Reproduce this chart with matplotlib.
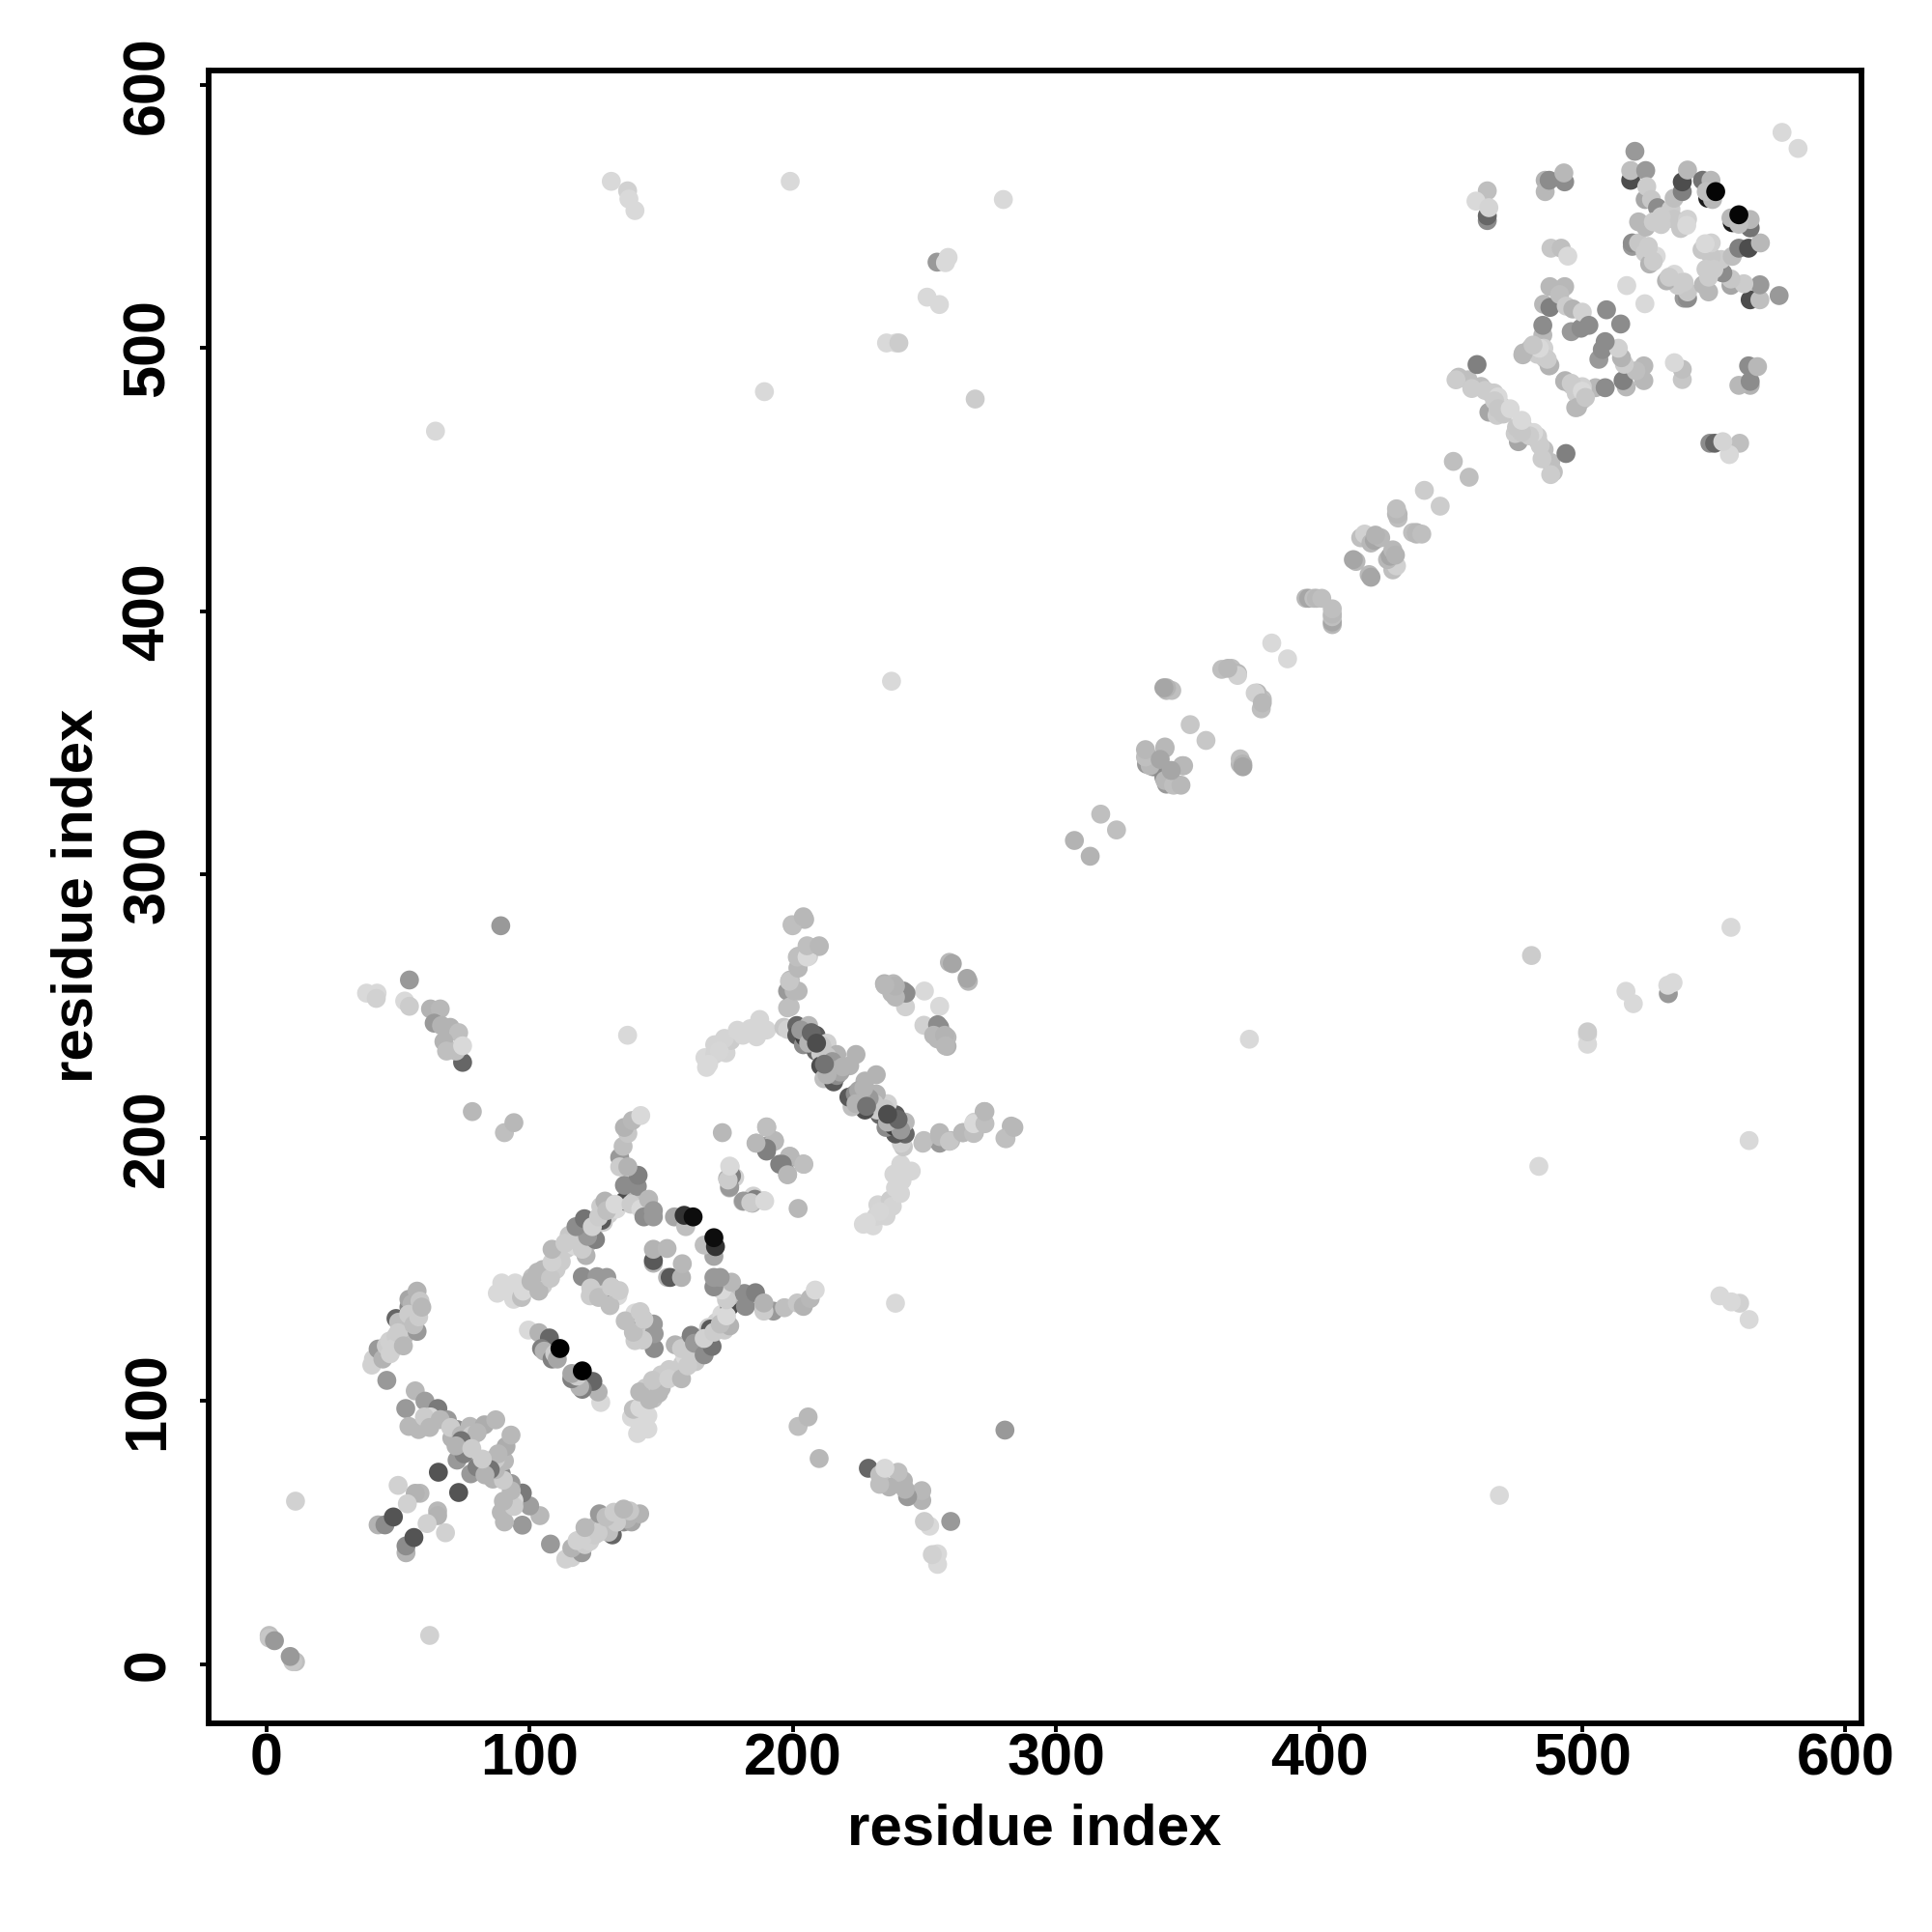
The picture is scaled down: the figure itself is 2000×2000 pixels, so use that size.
import matplotlib
matplotlib.use("Agg")
import matplotlib.pyplot as plt

plt.rcParams['font.family'] = ['Liberation Sans', 'DejaVu Sans']

# contact tables: (residue i, residue j, grey level); i < j, the map is symmetric
origin = [(1,11,.75),(1,10,.78),(3,9,.6),(11,62,.82)]
x_arm = [(56.5,103.9,.72),(52.9,97.2,.6),(60.2,100,.62),(65.1,97.2,.48),(54.1,90.4,.72),(57.8,89.2,.72),
         (68.7,92.9,.6),(72.4,89.2,.55),(77.3,90.4,.72),(82.8,91,.68),(87.1,92.9,.72),(73.7,81.9,.55),
         (72.4,77.6,.6),(77.3,84.3,.75),(62.3,94,.85),(70.4,86,.7),(60,94,.8),(62,90,.72),(66,93,.72),
         (70,90,.8),(74,87,.72),(78,87,.8),(80,88,.72),(74,85,.45),(75,80,.5),(72,83,.7),(78,82,.8),
         (65.3,73,.33),(50,68,.82),(58.3,65,.72),(56.5,65,.7),(53.5,61,.82),(42.4,53,.7),(45,53,.55),(48.2,56,.33)]
helix_a = [(45.7,107.9,.6),(40,113.7,.82),(40.6,116,.82),(42.4,119.8,.6),(44.2,116,.7),(45.5,121,.8),
           (46.7,122.8,.82),(49.2,124.7,.8),(49.2,131.4,.4),(52.3,124.7,.75),(52.9,128.3,.8),(54.1,135.7,.55),
           (57.2,126.5,.6),(54.1,138.7,.65),(57.2,141.8,.7),(50.2,130,.75),(55.3,137,.7),(47,118,.82),(48,120,.82),
           (50,126,.8),(54,133,.8),(56,129,.75),(52,121,.72),(57.8,132,.8),(58.3,138,.78),(59,135.7,.72)]
core_a = [(99.5,127,.85),(103.5,126,.7),(107.5,124,.4),(104.5,120,.5),(105.5,119,.7),(108.5,116,.5),
          (109.5,118,.8),(110.5,116,.65),(111.5,120,.0)]
ladder_under = [(91,142,.85),(99,143,.75),(101,147,.75),(105,144,.8),(105,150,.72),(110,150,.8),(110,156,.72),
                (112,153,.8),(114,158,.8),(115,163,.78),(117,159,.85),(119,164,.8),(122,160,.75),(122,167,.8),
                (124,164,.82),(128,168,.8),(127,174,.8),(130,171,.82),(130,175,.75),(133,173,.85)]
ladder = [(87.7,141,.85),(89.4,144.9,.85),(94.5,144.9,.85),(93.9,138.7,.85),(96.9,139.4,.75),(97.5,141.8,.85),
          (103.5,141.8,.72),(100.5,145.5,.72),(103,149,.72),(107.9,146.7,.78),(108.5,152.8,.82),(108.5,157.7,.72),
          (121.4,155.3,.7),(113.4,160,.8),(117.6,161.4,.8),(120,157.7,.8),(125,161.4,.5),(122,162.6,.6),
          (117.6,166.3,.55),(120.8,169.3,.45),(127.4,168.7,.35),(123.8,166.3,.82),(126.2,170,.8),
          (128.6,176,.7),(129.3,172.4,.75),(136,176,.3),(139.7,176,.75),(132.4,174.8,.85)]
rung = [(127,143,.8),(128,140,.8),(126,142,.82),(123,140,.8),(132,139.7,.8),(128,143.7,.8),(133.5,140,.85),
        (120,147.3,.55),(125.6,147.3,.6),(129.3,147,.6),(123.2,143,.8),(131.2,143,.35),(126.2,139.4,.75),
        (130.5,136.3,.75),(131,143.4,.8),(134,142,.8)]
stem = [(134.2,192.6,.6),(134.2,189,.8),(136,182,.55),(140.9,181.6,.55),(141.2,185.8,.5),(137.3,189,.7),
        (135.5,196.8,.75),(137.3,201.7,.78),(136,204,.7),(139,206.6,.72),(142.2,208.5,.85),(138.5,174.8,.8),
        (142.2,173,.85),(143.4,170,.55),(145.2,176.7,.72),(147,172.4,.6),(147,170,.6)]
centre = [(147,152.4,.7),(147,153.4,.35),(147,157.7,.7),(152.2,158,.72),(155,170,.65),(159.3,166.3,.75),
          (158.7,170.6,.2),(162.1,170,.05)]
patch = [(173.2,202,.72),(190.1,204,.72),(186.2,198,.72),(193,198.7,.72),(190,195,.5),(190,196.8,.6),
         (193,199,.72),(190,204.2,.75),(190,196,.5),(186,198,.72),(176.2,189,.85),(175.2,184.6,.7),
         (175.9,181,.75),(177.9,185,.82),(176,181.3,.6),(176.7,185.6,.5),(175.4,184,.8),(176,189.3,.85),(137.2,239,.85)]
arc = [(167.2,226.8,.85),(166.6,230.5,.85),(170.3,231.7,.83),(174.6,232.3,.83),(170.3,235.4,.83),(176.4,237,.8),
       (174,237.8,.83),(178.9,240.9,.84),(183.8,241.5,.84),(186.2,238.4,.84),(187.4,245,.84),(190,241,.84),
       (181,239,.84),(172,233,.84),(168,228,.85)]
branch = [(196.6,242,.78),(198,249.4,.75),(198,255.8,.6),(202,255.8,.72),(199,260,.72),(202,264.7,.72),
          (202,269,.72),(206,269,.82),(205.8,272.7,.72),(210,272.7,.72),(199.9,280.6,.75),(204.5,283,.72),
          (198,241.2,.82),(199,249.8,.75),(200.5,255.9,.72),(198.7,259.5,.78),(202,264.5,.72),(201.7,268.7,.75),
          (205.4,268.7,.85),(205.4,273,.75),(210,273,.72),(199.7,281,.75),(204,284,.72)]
crossing = [(201.5,242.7,.4),(201.5,239,.35),(206,242.7,.72),(204,235.4,.55),(204.5,238.4,.25),(208.8,239,.35),
            (208.8,233,.4),(213,236,.82),(210.6,232,.8),(210.6,227.4,.3),(214.3,227.4,.78),(216.7,231.7,.7),
            (224,231.7,.7),(221.6,227.4,.7),(211.8,222.5,.75),(215.5,221.3,.35),(216.7,223.7,.55),(218,225,.65),
            (203,241,.6),(206,236,.7),(211,235,.78),(213,231,.78),(215,229,.6),(217,226,.65),(219,227,.7),
            (213,224,.7),(207,240,.4),(212,228,.45),(209,236,.3)]
far_low = [(54.3,260,.6),(38,255,.85),(42,255,.85),(41.7,253,.82),(52.5,252,.85),(54.3,250,.8),(62.3,249,.7),
           (66,249,.72),(63.7,243.6,.6),(66.5,242.7,.7),(69.8,242,.7),(73,240,.75),(67.4,236.6,.7),(74.5,228.7,.4),
           (72,233,.75),(68.4,233,.75),(74.5,235,.85),(78.2,210,.72),(90.4,202,.75),(94,205.8,.72),(89,280.6,.6)]
corner = [(234.8,258.6,.7),(238.2,258.6,.72),(237.6,255,.72),(242,255.8,.55),(242.8,249.8,.82),(250,255.8,.85),
          (243,255,.55),(239,253.5,.72),(239,257.7,.7),(235,258,.72),(259.5,266.7,.72),(260.6,266.2,.65)]
far_high = [(64.2,468.5,.85),(131,563.4,.85),(137.2,559.8,.82),(137.7,556.7,.85),(140,552.3,.85),(199,563.4,.85),
            (280,556.5,.85),(254.8,532.7,.6),(259,534.5,.85),(258,532.5,.85),(251,519.4,.85),(255.7,516.6,.85),
            (235.6,502,.85),(239.3,502,.85),(240.3,502,.8),(189.2,483.5,.85),(269.3,480.7,.8),(237.5,373.5,.85)]
diag_mid = [(307,313,.7),(317,323,.75),(334.4,345.6,.65),(334.4,344,.6),(334.4,342,.6),(337,341,.55),
            (341.4,348,.7),(335.8,341.4,.72),(334,344.7,.75),(334,347.5,.72),(341.4,348.5,.72),(339.6,343.8,.65),
            (342,370,.72),(344,370,.75),(351,357,.78),(342,371,.7),(341,371,.65),(363,378,.75),(366.7,378.4,.75),
            (369,376.5,.72),(369,375.7,.82),(365.3,378.4,.72),(382,388,.85),(395,405,.72),(396,405,.65),
            (398,405,.75),(399,405,.72),(401,405,.75)]
diag_upper = [(414,419,.72),(413,419.7,.65),(415.8,428,.75),(417.3,429.4,.82),(419.7,426,.72),(421,427,.65),
              (423.4,428,.72),(421.4,429,.7),(430,435.5,.75),(430,437,.72),(429.4,437,.72),(429.4,439,.75),
              (440,446,.8),(451,457,.75)]
band = [(453,489,.75),(456.6,488,.75),(452,488,.8),(460,493.8,.5),(461.5,485.5,.75),(465.1,483,.78),(464.5,475.7,.65),
        (469.3,478,.8),(467.6,474.5,.8),(458,484.7,.8),(463,484,.8),(466.5,483,.8),(468,481.5,.85),(466.7,480,.8),
        (468,477,.78),(470,475,.78),(472.6,477,.85)]
domain_a = [(463.9,548.5,.55),(463.9,550.3,.4),(463.9,559.8,.75),(459.6,555.9,.85),(464.5,553.4,.83),
            (485.9,563.8,.7),(485.9,559.5,.72),(487.4,563.8,.55),(493.3,563.2,.55),(493,566.6,.72),
            (488.1,538,.78),(492,538,.75),(494.5,535,.85),(485,505,.72),(485,508.7,.55),(477.4,497.5,.72),
            (480.4,500,.75),(482.9,497.7,.8),(485.4,500,.82),(485.9,496,.8),(487.7,493.5,.72),(493.3,487.4,.7),
            (495.8,486.7,.8),(498.2,477.6,.72),(500,483.7,.85),(501.2,481.3,.78)]
domain_b = [(485.3,516.7,.72),(487.7,515.5,.5),(487.7,523.4,.72),(493.3,523.4,.72),(491.4,520.4,.75),(493.9,516,.8),
            (496.4,514.9,.7),(495.8,506.3,.6),(499.5,507.6,.55),(500,513.7,.82),(502.5,508.7,.55),(509.2,514.6,.55),
            (516.9,523.8,.85)]
domain_c = [(519,538.7,.6),(519,540,.55),(521.4,540,.78),(523.9,536.3,.8),(525.1,538.7,.8),(525.6,532,.7),
            (528.1,535,.85),(521.4,548,.72),(524.1,546,.72),(518.4,563.8,.3),(518.4,567.5,.75),(520,574.8,.6),
            (524.1,567.5,.6),(523.9,556.5,.65),(524.5,561.4,.8),(526.3,556.5,.78),(528.6,553.4,.55),(532.4,550.3,.78),
            (533.7,552.8,.8),(534.9,549,.78),(534.9,557,.75),(537.4,545.5,.78),(527,548,.8),(530,547,.8),
            (530,550,.8),(540,549,.82),(525,538,.8),(527,533,.8),(539.7,546.7,.85),(538,559.5,.5),(538,563.2,.3),
            (540,567.7,.72),(545.7,563.8,.45),(548.9,563.8,.72),(547.7,557,.1),(549.5,556.5,.72),(547.1,559.5,.75),
            (550.7,559.5,.02),(575.9,582,.85)]

clusters = [origin, x_arm, helix_a, core_a, ladder_under, ladder, rung, stem, centre, patch, arc, branch, crossing,
            far_low, corner, far_high, diag_mid, diag_upper, band, domain_a, domain_b, domain_c]

tick_values = [0, 100, 200, 300, 400, 500, 600]
axis_title = "residue index"

fig = plt.figure(figsize=(10, 10), dpi=200)
ax = fig.add_axes([216/2000, 1-1784/2000, 1711/2000, 1711/2000])
ax.set_xlim(-22.0, 606.1)
ax.set_ylim(-22.4, 605.5)

for group in clusters:
    xs, ys, gs = [], [], []
    for i, j, g in group:
        xs += [i, j]
        ys += [j, i]
        gs += [str(g), str(g)]
    ax.scatter(xs, ys, s=50, c=gs, linewidths=0, zorder=3)

for s in ax.spines.values():
    s.set_linewidth(2.1)
ax.set_xticks(tick_values)
ax.set_yticks(tick_values)
ax.tick_params(axis='both', length=3.2, width=1.4, labelsize=22)
ax.tick_params(axis='x', pad=0.4)
ax.tick_params(axis='y', pad=8.8)
for t in ax.get_xticklabels():
    t.set_fontweight('bold')
for t in ax.get_yticklabels():
    t.set_fontweight('bold')
    t.set_rotation(90)
    t.set_va('center')
fig.text(1071/2000, 1-1894/2000, axis_title, fontsize=21.6, fontweight='bold', ha='center', va='center')
fig.text(80/2000, 1-927/2000, axis_title, fontsize=21.6, fontweight='bold', ha='center', va='center', rotation=90)

fig.savefig('out.png', dpi=200, facecolor='white')
